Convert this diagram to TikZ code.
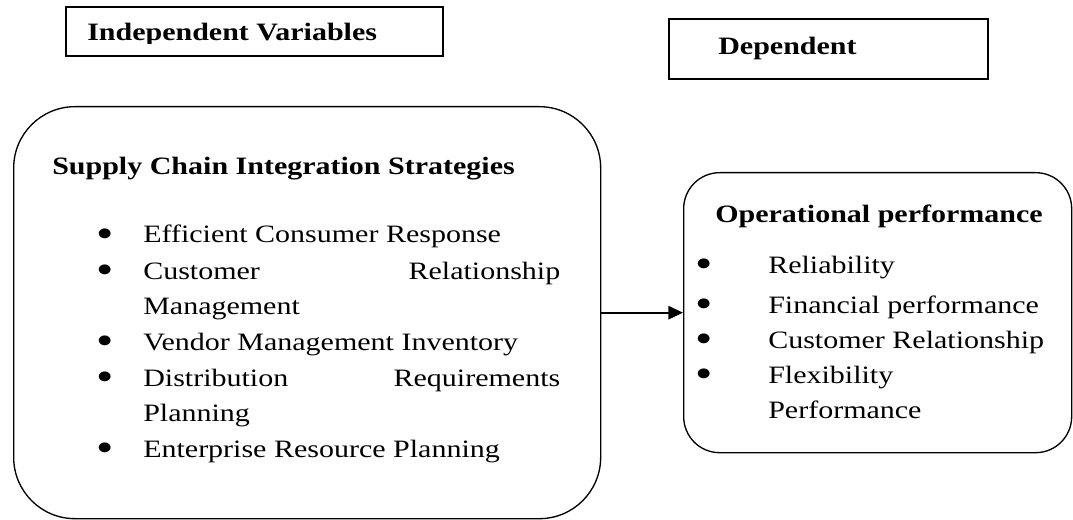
\documentclass[tikz,border=0pt]{standalone}
\usepackage{fontspec}
\setmainfont{Liberation Serif}[FakeStretch=1.2]
\usetikzlibrary{arrows.meta, positioning}

\newcommand{\bigfont}{\fontsize{18.75pt}{26.5pt}\selectfont}
\newcommand{\bigdot}{\smash{\raisebox{-3.4pt}{\scalebox{1.65}{\textbullet}}}}
\newcommand{\dotitem}[2][33.75pt]{\makebox[#1][l]{\hspace{-1.5pt}\bigdot}#2}

\begin{document}
\begin{tikzpicture}[
		x=0.75pt, y=-0.75pt,
		varbox/.style={draw, line width=1.3pt, inner sep=0pt, anchor=north west},
		bigbox/.style={draw, line width=1pt, inner sep=0pt, anchor=north west},
		head/.style={font=\bigfont\bfseries, inner sep=0pt, anchor=base west},
		entry/.style={font=\bigfont, inner sep=0pt, anchor=base west},
		arrow/.style={-{Triangle[length=11pt, width=10pt]}, line width=1.5pt}
	]
	\useasboundingbox (0,0) rectangle (1073,520);

	% variable headings
	\node[varbox, minimum width=282.75pt, minimum height=36.75pt] (indep) at (65,6) {};
	\begin{scope}
		\clip (65,6) rectangle (442,44);
		\node[head] (indeplabel) at (87,41) {Independent Variables};
	\end{scope}
	\node[varbox, minimum width=239.25pt, minimum height=45pt] (dep) at (668,18) {};
	\node[head] (deplabel) at (718,55) {Dependent};

	% independent side
	\node[bigbox, rounded corners=46pt, minimum width=440.25pt, minimum height=309pt] (scis) at (13,106) {};
	\node[head] (scistitle) at (52,175) {Supply Chain Integration Strategies};
	\node[entry] (ecr) at (98,243) {\dotitem{Efficient Consumer Response}};
	\node[entry] (crm) at (98,279) {\dotitem{\makebox[312.75pt][l]{Customer\hfill Relationship}}};
	\node[entry] (crm2) at (143,314) {Management};
	\node[entry] (vmi) at (98,350) {\dotitem{Vendor Management Inventory}};
	\node[entry] (drp) at (98,386) {\dotitem{\makebox[312.75pt][l]{Distribution\hfill Requirements}}};
	\node[entry] (drp2) at (143,421) {Planning};
	\node[entry] (erp) at (98,457) {\dotitem{Enterprise Resource Planning}};

	% dependent side
	\node[bigbox, rounded corners=27pt, minimum width=291pt, minimum height=210pt] (opperf) at (683,172) {};
	\node[head] (opptitle) at (715,223) {Operational performance};
	\node[entry] (rel) at (697,273) {\dotitem[53.25pt]{Reliability}};
	\node[entry] (fin) at (697,313) {\dotitem[53.25pt]{Financial performance}};
	\node[entry] (cus) at (697,348) {\dotitem[53.25pt]{Customer Relationship}};
	\node[entry] (flex) at (697,383) {\dotitem[53.25pt]{Flexibility}};
	\node[entry] (flex2) at (768,418) {Performance};

	\draw[arrow] (scis) -- (opperf);
\end{tikzpicture}
\end{document}
